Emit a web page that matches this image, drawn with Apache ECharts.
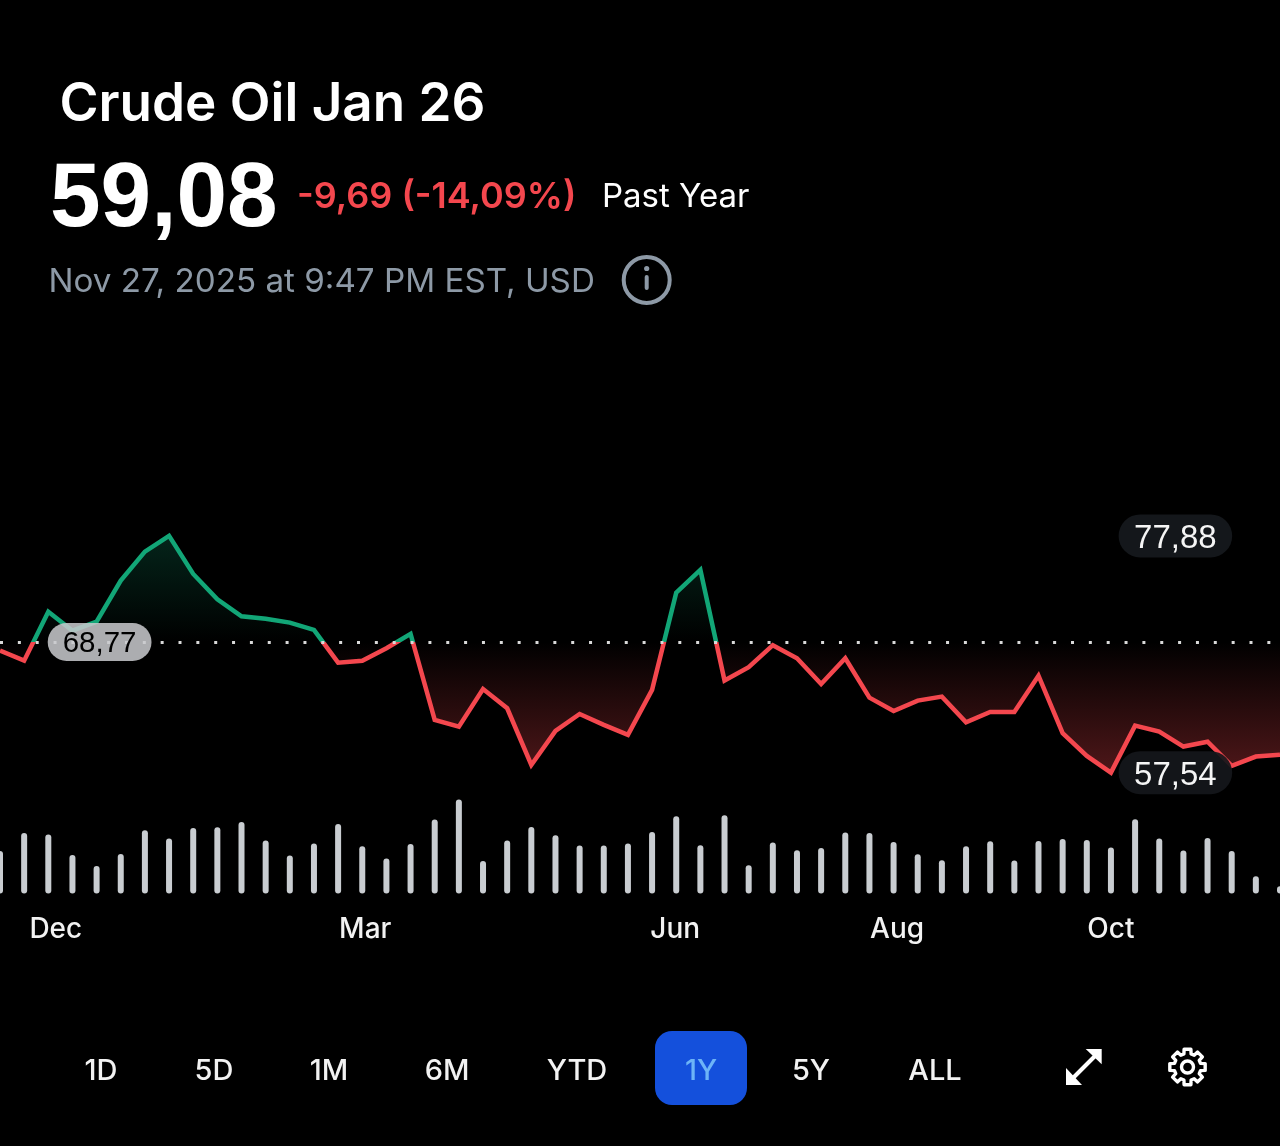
<!DOCTYPE html>
<html>
<head>
<meta charset="utf-8">
<title>Crude Oil Jan 26</title>
<script src="https://cdn.jsdelivr.net/npm/echarts@6/dist/echarts.min.js"></script>
<style>
  html, body { margin: 0; padding: 0; background: #000; }
  #chart { width: 1280px; height: 1146px; }
</style>
</head>
<body>
<div id="chart"></div>
<script>
// weekly closes
var prices = [
  68.02, 67.16, 71.37, 69.74, 70.51, 74.04, 76.53, 77.88, 74.61, 72.44,
  70.98, 70.77, 70.43, 69.80, 66.99, 67.16, 68.23, 69.46, 62.07, 61.49,
  64.73, 63.07, 58.20, 61.12, 62.58, 61.64, 60.78, 64.65, 73.01, 74.96,
  65.45, 66.60, 68.49, 67.37, 65.16, 67.37, 63.98, 62.84, 63.73, 64.07,
  61.87, 62.76, 62.76, 65.87, 60.93, 58.98, 57.54, 61.58, 61.06, 59.78,
  60.20, 58.12, 58.92, 59.08
];
// volume, relative units (axis runs 0-100)
var volumes = [
  42.6, 60.6, 59, 38.6, 27.6, 39.6, 63.3, 55, 65.6, 66.3,
  71.6, 53, 38, 50, 69.6, 47.3, 35, 49.6, 74, 94,
  32.6, 53, 66.6, 58.3, 48, 48, 50, 61.6, 77.3, 48.3,
  78.3, 28.3, 51, 43.3, 45.6, 61, 60.6, 51.6, 39.3, 33.3,
  47.3, 52.3, 33, 52.6, 54.6, 53.6, 46, 74.3, 55, 43,
  55.6, 42.6, 17.3, 7.3
];
var baseline = 68.77;
var monthLabels = { 2: 'Dec', 15: 'Mar', 28: 'Jun', 37: 'Aug', 46: 'Oct' };
var ranges = ['1D', '5D', '1M', '6M', 'YTD', '1Y', '5Y', 'ALL'];
var rangeCenters = [101, 214, 329, 447, 577, 701, 811, 935];

var GREEN = '#12a677';
var RED = '#f4474e';
var SANS = 'Inter, "Liberation Sans", sans-serif';
var PILL = '"Liberation Sans", Arial, sans-serif';

var categories = prices.map(function (p, i) { return String(i); });
var hi = Math.max.apply(null, prices);
var lo = Math.min.apply(null, prices);
var splitAt = (hi - baseline) / (hi - lo);

function fmt(v) { return v.toFixed(2).replace('.', ','); }

function pill(value, idx, dx, size, bg, color, pad, nudge) {
  return {
    coord: [idx, value],
    symbol: 'rect',
    symbolSize: 1,
    itemStyle: { color: 'rgba(0,0,0,0)' },
    label: {
      show: true,
      position: 'inside',
      offset: [dx, 0],
      formatter: '{t|' + fmt(value) + '}',
      backgroundColor: bg,
      borderRadius: 22,
      padding: pad,
      rich: {
        t: { fontFamily: PILL, fontSize: size, color: color, padding: [nudge, 0, 0, 0] }
      }
    }
  };
}

function txt(text, x, y, size, weight, fill, family, align) {
  return {
    type: 'text',
    silent: true,
    style: {
      text: text, x: x, y: y,
      fontSize: size, fontWeight: weight,
      fontFamily: family || SANS,
      fill: fill,
      align: align || 'left',
      verticalAlign: 'middle'
    }
  };
}

// gear outline for the settings icon
function gearPoints(cx, cy) {
  var pts = [];
  for (var t = 0; t < 8; t++) {
    var a = t * Math.PI / 4 - Math.PI / 2;
    [[-0.27, 13.5], [-0.19, 18], [0.19, 18], [0.27, 13.5]].forEach(function (q) {
      pts.push([cx + q[1] * Math.cos(a + q[0]), cy + q[1] * Math.sin(a + q[0])]);
    });
  }
  return pts;
}

var graphics = [
  txt('Crude Oil Jan 26', 59.5, 105, 53, 600, '#fff'),
  txt('59,08', 50, 201, 91, 700, '#fff', PILL),
  txt('-9,69 (-14,09%)', 297, 197, 36, 600, RED),
  txt('Past Year', 602, 197, 33, 400, '#fff'),
  txt('Nov 27, 2025 at 9:47 PM EST, USD', 48.5, 282, 33.2, 400, '#8d99a6'),
  // info icon
  { type: 'circle', silent: true, shape: { cx: 646.7, cy: 280, r: 23 },
    style: { fill: 'none', stroke: '#8d99a6', lineWidth: 4 } },
  { type: 'circle', silent: true, shape: { cx: 646.7, cy: 268.5, r: 2.6 }, style: { fill: '#8d99a6' } },
  { type: 'rect', silent: true, shape: { x: 644.7, y: 275, width: 4, height: 15, r: 2 }, style: { fill: '#8d99a6' } },
  // active range
  { type: 'rect', silent: true, shape: { x: 655, y: 1031, width: 92, height: 74, r: 17 }, style: { fill: '#1450dc' } },
  // expand icon
  { type: 'line', silent: true, shape: { x1: 1073, y1: 1078, x2: 1095, y2: 1056 },
    style: { stroke: '#fff', lineWidth: 4 } },
  { type: 'polygon', silent: true, shape: { points: [[1085.7, 1049], [1101.7, 1049], [1101.7, 1064.3]] }, style: { fill: '#fff' } },
  { type: 'polygon', silent: true, shape: { points: [[1066, 1068], [1066, 1085], [1082, 1085]] }, style: { fill: '#fff' } },
  // settings icon
  { type: 'polygon', silent: true, shape: { points: gearPoints(1187.5, 1067) },
    style: { fill: 'none', stroke: '#fff', lineWidth: 3.4, lineJoin: 'round' } },
  { type: 'circle', silent: true, shape: { cx: 1187.5, cy: 1067, r: 6 },
    style: { fill: 'none', stroke: '#fff', lineWidth: 3.4 } }
];
ranges.forEach(function (r, i) {
  graphics.push(txt(r, rangeCenters[i], 1071, 29, 500, r === '1Y' ? '#6db4f7' : '#f2f2f2', SANS, 'center'));
});

var chart = echarts.init(document.getElementById('chart'));

chart.setOption({
  backgroundColor: '#000',
  animation: false,
  graphic: graphics,
  grid: [
    { left: 0, right: 0, top: 499.6, height: 302.6 },
    { left: 0, right: 0, top: 793.5, height: 100, outerBoundsMode: 'none' }
  ],
  xAxis: [
    { type: 'category', gridIndex: 0, data: categories, boundaryGap: false, show: false },
    {
      type: 'category',
      gridIndex: 1,
      data: categories,
      boundaryGap: false,
      axisLine: { show: false },
      axisTick: { show: false },
      axisLabel: {
        interval: 0,
        margin: 22,
        color: '#f2f2f2',
        fontFamily: SANS,
        fontSize: 28,
        fontWeight: 500,
        formatter: function (value, index) {
          var m = monthLabels[index];
          return m ? '{' + m + '|' + m + '}' : '';
        },
        // nudges so the month names sit where the app put them
        rich: {
          Dec: { padding: [0, 0, 0, 15] },
          Mar: { padding: [0, 0, 0, 6] },
          Jun: { padding: [0, 2, 0, 0] },
          Aug: { padding: [0, 0, 0, 7] },
          Oct: {}
        }
      }
    }
  ],
  yAxis: [
    { type: 'value', gridIndex: 0, min: 55, max: 81, show: false, splitLine: { show: false } },
    { type: 'value', gridIndex: 1, min: 0, max: 100, show: false, splitLine: { show: false } }
  ],
  series: [
    {
      name: 'Price',
      type: 'line',
      xAxisIndex: 0,
      yAxisIndex: 0,
      data: prices,
      symbol: 'none',
      silent: true,
      // hard colour switch where the line crosses the previous close
      lineStyle: {
        width: 4.5,
        join: 'miter',
        color: new echarts.graphic.LinearGradient(0, 0, 0, 1, [
          { offset: 0, color: GREEN },
          { offset: splitAt, color: GREEN },
          { offset: splitAt, color: RED },
          { offset: 1, color: RED }
        ])
      },
      areaStyle: {
        origin: baseline,
        opacity: 1,
        color: new echarts.graphic.LinearGradient(0, 0, 0, 1, [
          { offset: 0, color: 'rgba(18,166,119,0.22)' },
          { offset: splitAt, color: 'rgba(18,166,119,0)' },
          { offset: splitAt, color: 'rgba(244,71,78,0)' },
          { offset: 1, color: 'rgba(244,71,78,0.32)' }
        ])
      },
      markLine: {
        silent: true,
        symbol: 'none',
        label: { show: false },
        lineStyle: { color: '#d9d9d9', width: 3, type: [3, 14.85], opacity: 1 },
        data: [{ yAxis: baseline }]
      },
      markPoint: {
        silent: true,
        data: [
          pill(baseline, 4, 3, 29.5, 'rgba(200,202,205,0.86)', '#000', [2, 15], 4),
          pill(hi, 49, -8, 33, '#14171b', '#f5f5f5', [2, 15.5], 6),
          pill(lo, 49, -8, 33, 'rgba(20,23,27,0.93)', '#f5f5f5', [2, 15.5], 6)
        ]
      }
    },
    {
      name: 'Volume',
      type: 'bar',
      xAxisIndex: 1,
      yAxisIndex: 1,
      data: volumes,
      barWidth: 6,
      silent: true,
      itemStyle: { color: '#c9cdd1', borderRadius: 3 }
    }
  ]
});
</script>
</body>
</html>
